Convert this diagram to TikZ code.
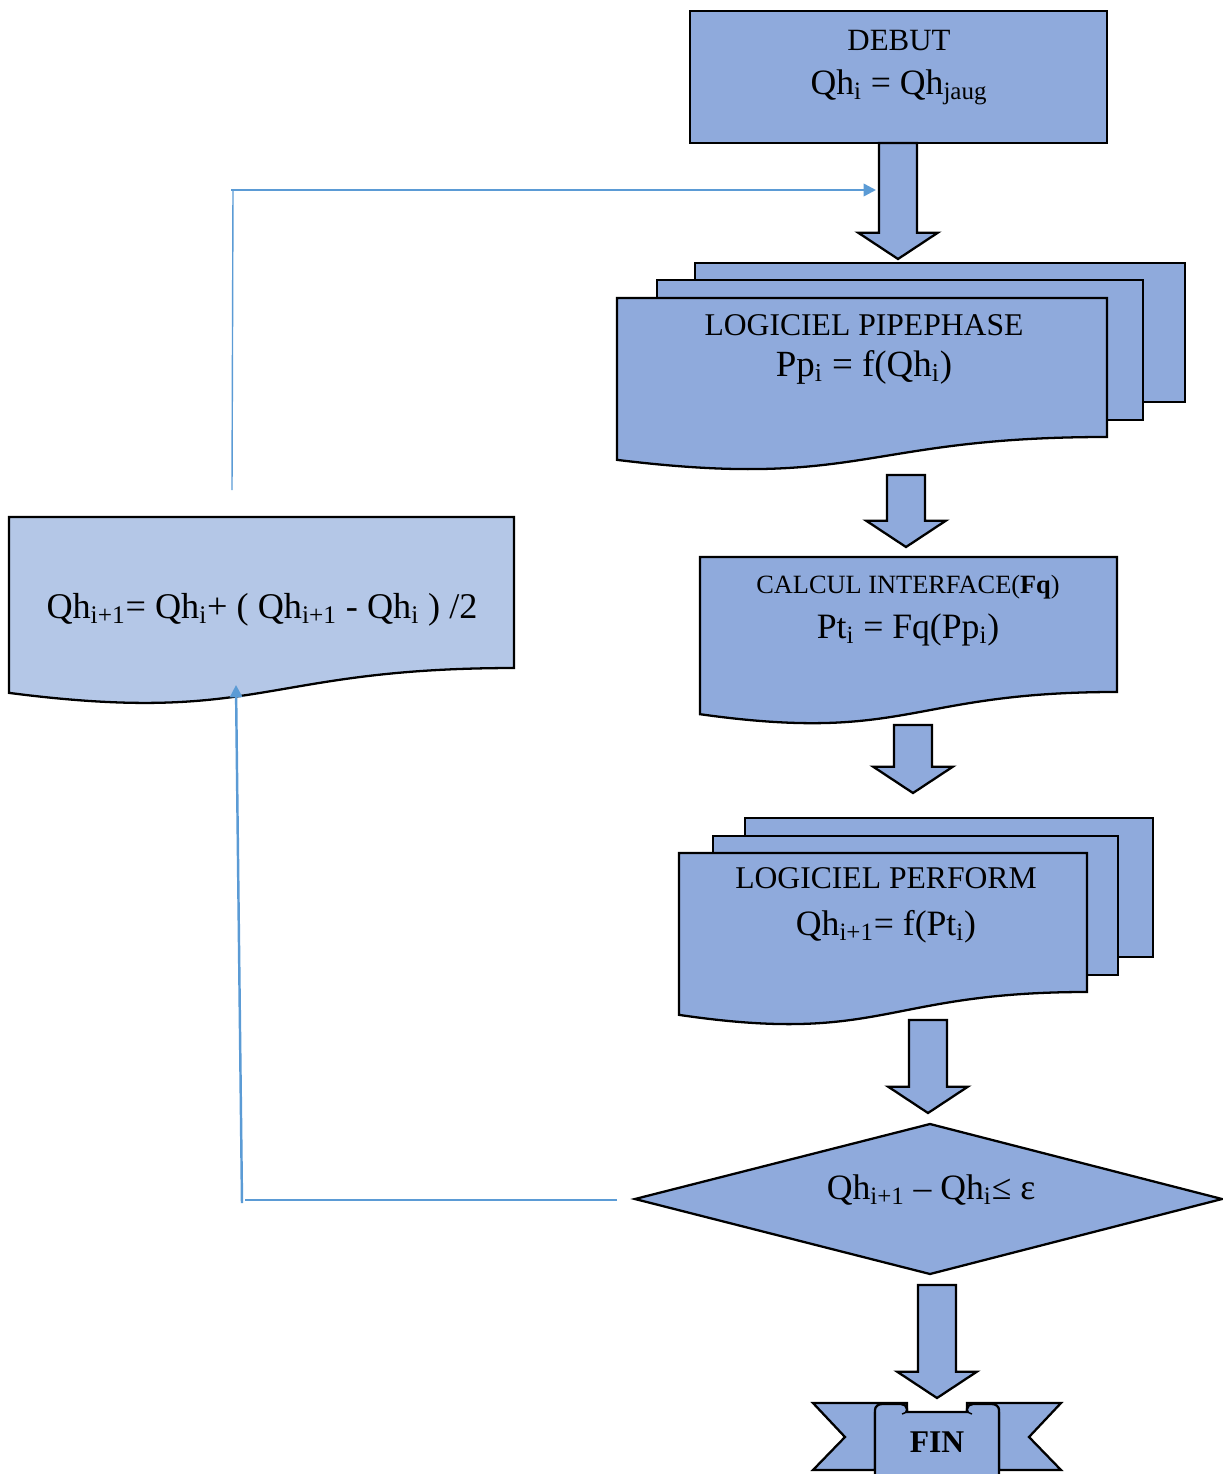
\documentclass[tikz,border=0pt]{standalone}
\usepackage{fontspec}
\setmainfont{Liberation Serif}
\usetikzlibrary{calc,arrows.meta}
\definecolor{boxblue}{HTML}{8FAADC}
\definecolor{boxlight}{HTML}{B4C7E7}
\definecolor{linkblue}{HTML}{5B9BD5}
\newcommand{\sbs}[1]{\textsubscript{#1}}
\newcommand{\docshape}[5][boxblue]{%
  \draw[docbox, fill=#1] (#2,#3) -- ({#2+#4},#3) -- ({#2+#4},{#3+0.802*#5})
    .. controls ({#2+0.5*#4},{#3+0.802*#5}) and ({#2+0.5*#4},{#3+1.1075*#5}) .. (#2,{#3+0.934*#5}) -- cycle;}
\newcommand{\blockarrow}[2]{%
  \draw[docbox, fill=boxblue] let \p1=(#1), \p2=(#2) in
    (\x1-10.8pt,\y1) -- (\x1+10.8pt,\y1) -- (\x1+10.8pt,\y2+15pt) -- (\x1+22.7pt,\y2+15pt)
    -- (\x1,\y2) -- (\x1-22.7pt,\y2+15pt) -- (\x1-10.8pt,\y2+15pt) -- cycle;}
\begin{document}
\begin{tikzpicture}[
    x=0.02cm, y=-0.02cm,
    docbox/.style={draw=black, line width=1.3pt, line join=miter},
    title/.style={inner sep=0, anchor=base, font=\fontsize{18pt}{21pt}\selectfont},
    small title/.style={inner sep=0, anchor=base, font=\fontsize{15pt}{18pt}\selectfont},
    formula/.style={inner sep=0, anchor=base, font=\fontsize{20.3pt}{24pt}\selectfont},
    feedline/.style={draw=linkblue, line width=0.8pt},
    feedarrow/.style={draw=linkblue, line width=1.4pt, -{Triangle[length=7pt,width=7pt]}}
]
    \useasboundingbox (0,0) rectangle (1223,1474);

    % DEBUT
    \draw[docbox, fill=boxblue] (690,11) rectangle (1107,143);
    \node[title, font=\fontsize{17.6pt}{21pt}\selectfont] (debut) at (899,50) {DEBUT};
    \node[formula] (debut-eq) at (899,94) {Qh\sbs{i} = Qh\sbs{jaug}};

    % LOGICIEL PIPEPHASE
    \draw[docbox, fill=boxblue] (695,263) rectangle (1185,402);
    \draw[docbox, fill=boxblue] (657,280) rectangle (1143,420);
    \docshape{617}{298}{490}{173.3}
    \node[title] (pipe) at (864,335) {LOGICIEL PIPEPHASE};
    \node[formula, font=\fontsize{21pt}{25pt}\selectfont] (pipe-eq) at (864,376) {Pp\sbs{i} = f(Qh\sbs{i})};

    % CALCUL INTERFACE
    \docshape{700}{557}{417}{168.3}
    \node[small title] (calc) at (908,593) {CALCUL INTERFACE(\textbf{Fq})};
    \node[formula] (calc-eq) at (908,638) {Pt\sbs{i} = Fq(Pp\sbs{i})};

    % LOGICIEL PERFORM
    \draw[docbox, fill=boxblue] (745,818) rectangle (1153,957);
    \draw[docbox, fill=boxblue] (713,836) rectangle (1118,975);
    \docshape{679}{853}{408}{173.3}
    \node[title] (perf) at (886,888) {LOGICIEL PERFORM};
    \node[formula] (perf-eq) at (886,935) {Qh\sbs{i+1}= f(Pt\sbs{i})};

    % test
    \draw[docbox, fill=boxblue] (635,1199) -- (930,1124) -- (1222,1199) -- (930,1274) -- cycle;
    \node[formula] (test) at (931,1199) {Qh\sbs{i+1} – Qh\sbs{i}≤ ε};

    % mise a jour
    \docshape[boxlight]{9}{517}{505}{188.3}
    \node[formula, font=\fontsize{20.6pt}{25pt}\selectfont] (maj) at (262,618)
        {Qh\sbs{i+1}= Qh\sbs{i}+ ( Qh\sbs{i+1} - Qh\sbs{i} ) /2};

    % FIN
    \filldraw[docbox, fill=boxblue] (907,1413) -- (907,1403) -- (813,1403) -- (845,1437)
        -- (813,1470) -- (875,1470) -- (875,1413) -- cycle;
    \filldraw[docbox, fill=boxblue] (967,1413) -- (967,1403) -- (1061,1403) -- (1029,1437)
        -- (1061,1470) -- (999,1470) -- (999,1413) -- cycle;
    \filldraw[docbox, fill=boxblue] (875,1480) -- (875,1410) to[out=90,in=180] (882,1404)
        -- (901,1404) to[out=0,in=90] (907,1409) -- (907,1412) -- (967,1412) -- (967,1409)
        to[out=90,in=180] (973,1404) -- (992,1404) to[out=0,in=90] (999,1410) -- (999,1480);
    \draw[docbox, line width=0.8pt] (907,1409) to[out=-90,in=0] (902,1414);
    \draw[docbox, line width=0.8pt] (967,1409) to[out=-90,in=180] (972,1414);
    \node[title, font=\bfseries\fontsize{18pt}{22pt}\selectfont] (fin) at (937,1452) {FIN};

    % block arrows
    \coordinate (a1-top) at (898,143);  \coordinate (a1-tip) at (898,259);
    \coordinate (a2-top) at (906,475);  \coordinate (a2-tip) at (906,547);
    \coordinate (a3-top) at (913,725);  \coordinate (a3-tip) at (913,793);
    \coordinate (a4-top) at (928,1020); \coordinate (a4-tip) at (928,1113);
    \coordinate (a5-top) at (937,1285); \coordinate (a5-tip) at (937,1398);
    \blockarrow{a1-top}{a1-tip}
    \blockarrow{a2-top}{a2-tip}
    \blockarrow{a3-top}{a3-tip}
    \blockarrow{a4-top}{a4-tip}
    \blockarrow{a5-top}{a5-tip}

    % boucle
    \coordinate (test-w) at (617,1200);
    \coordinate (loop-sw) at (245,1200);
    \coordinate (loop-sb) at (242,1203);
    \coordinate (maj-s) at (236,685);
    \coordinate (maj-n) at (232,490);
    \coordinate (loop-nw) at (233,190);
    \coordinate (loop-nb) at (231,190);
    \coordinate (join) at (876,190);
    \draw[feedline] (test-w) -- (loop-sw);
    \draw[feedarrow] (loop-sb) -- (maj-s);
    \draw[feedline] (maj-n) -- (loop-nw);
    \draw[feedarrow] (loop-nb) -- (join);
\end{tikzpicture}
\end{document}
